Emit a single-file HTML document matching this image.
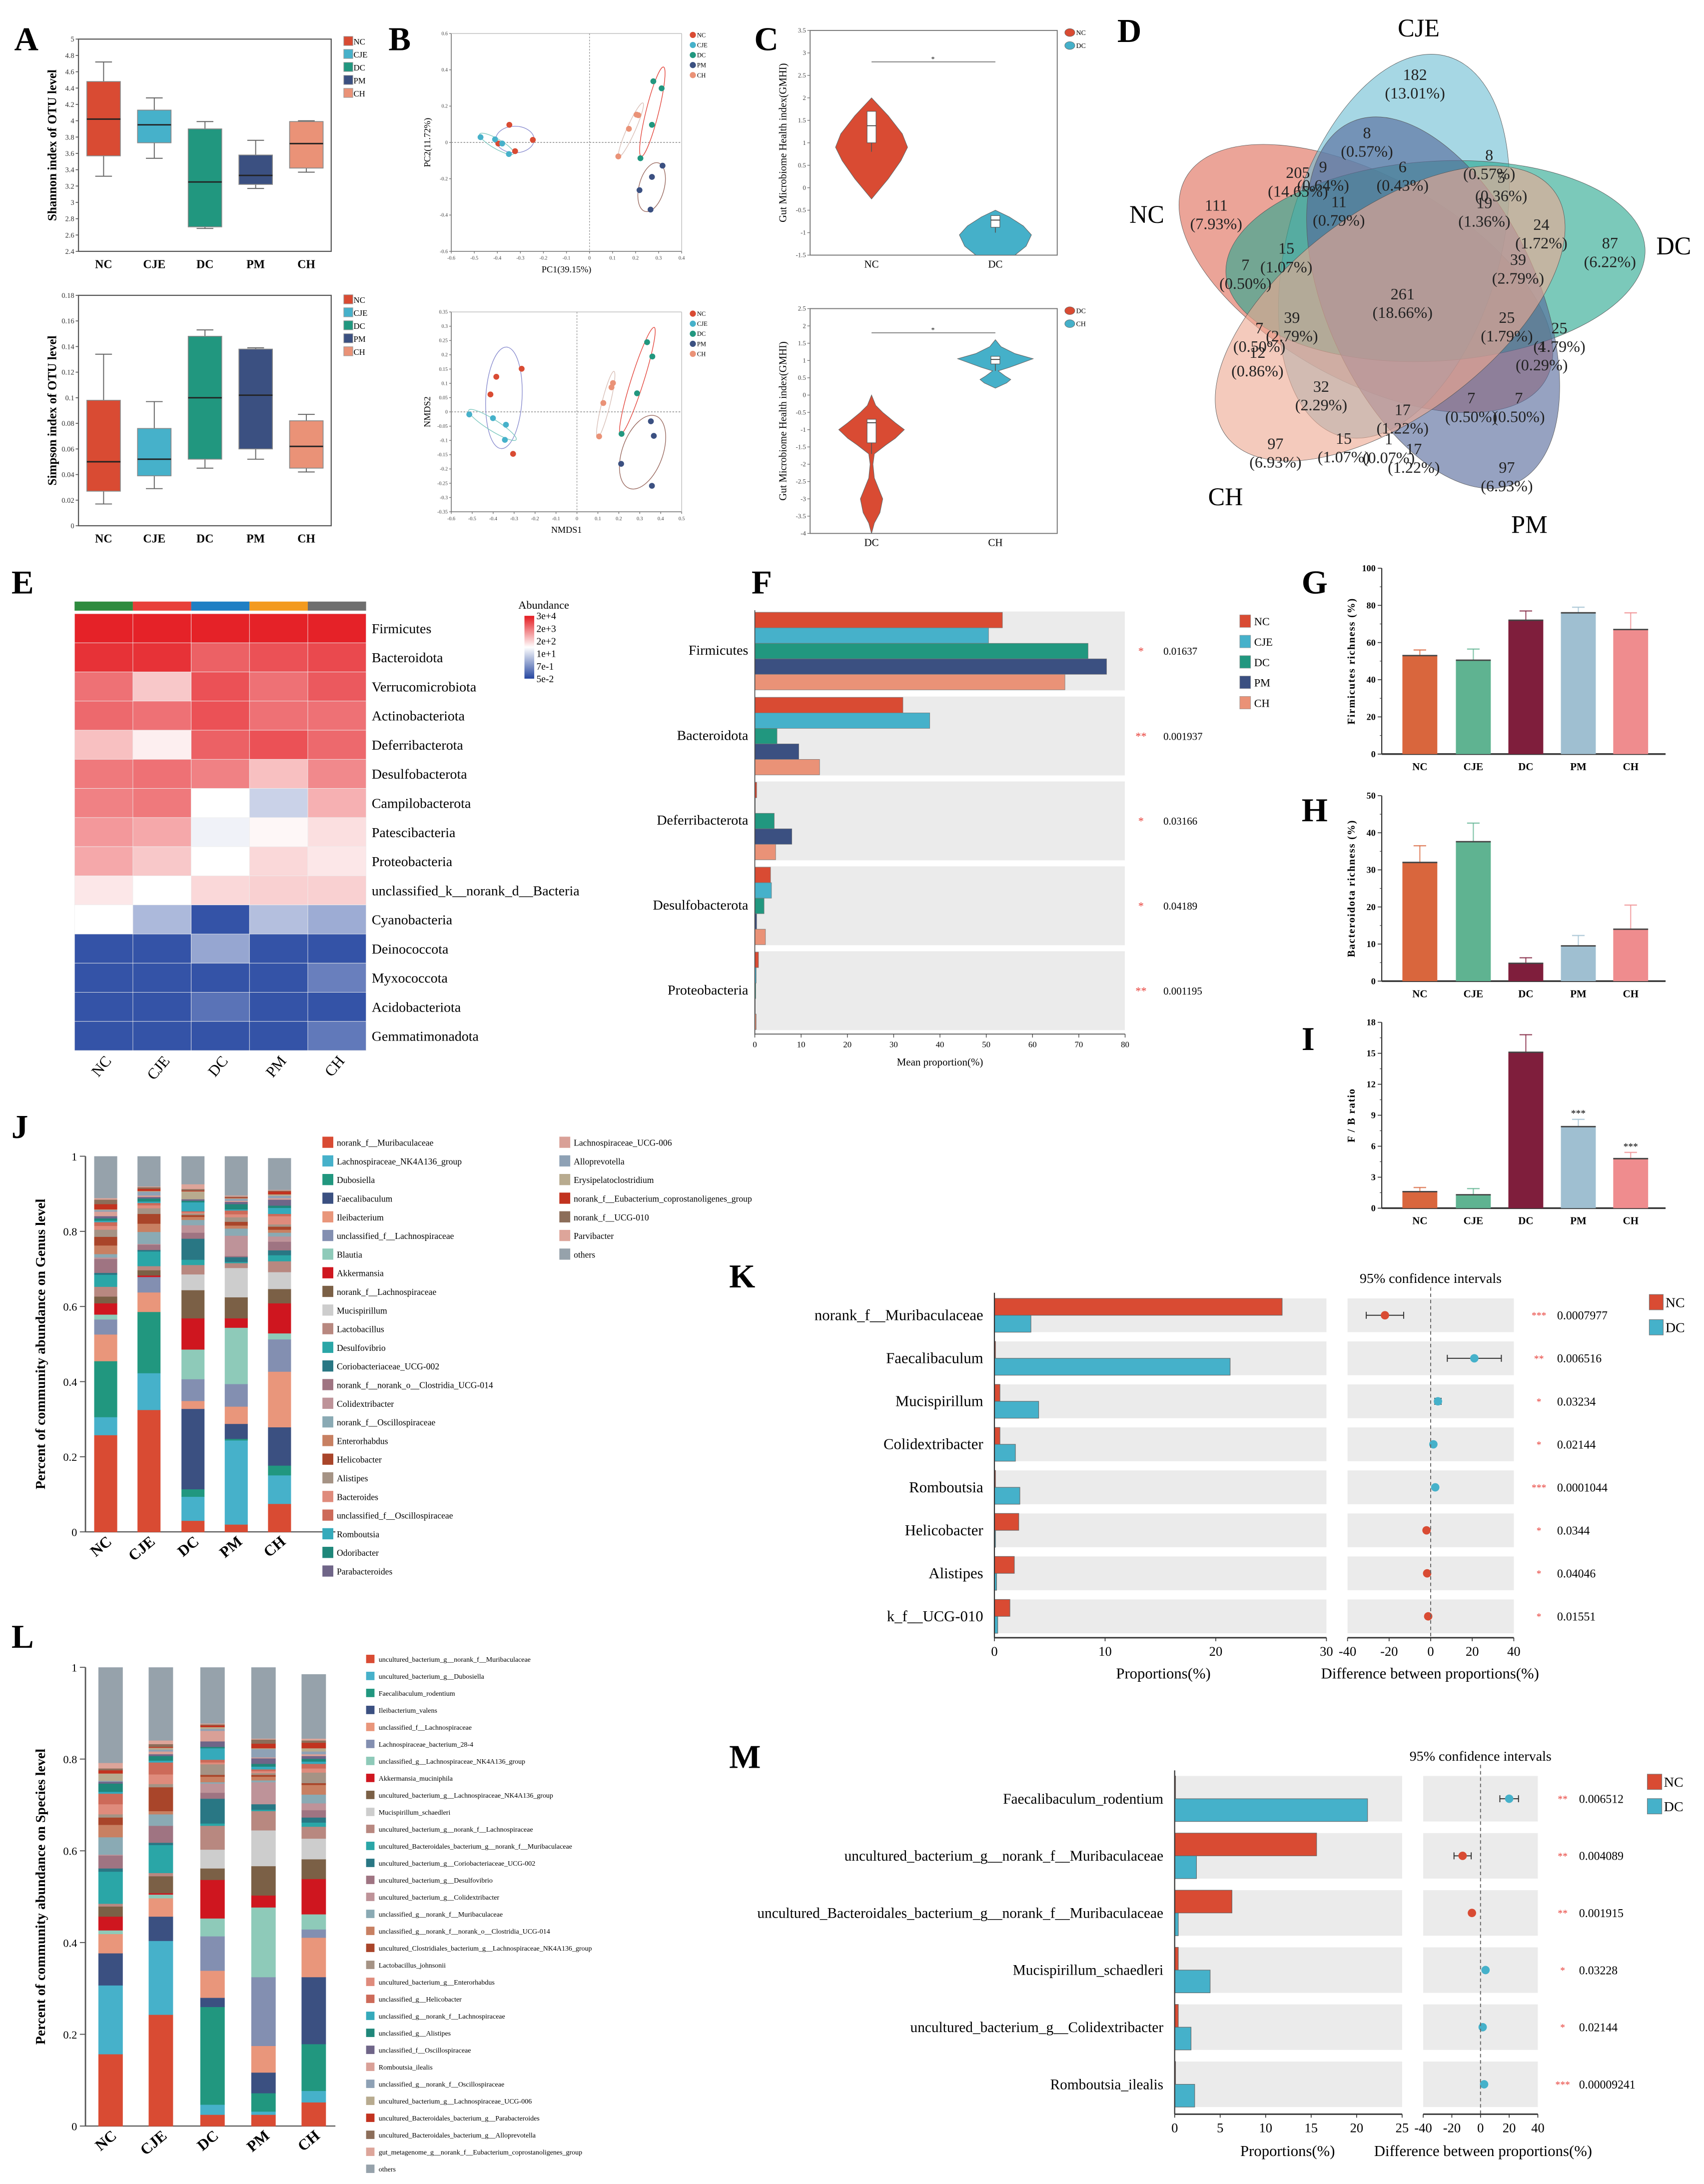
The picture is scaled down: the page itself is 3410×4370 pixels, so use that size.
<!DOCTYPE html>
<html><head><meta charset="utf-8"><title>Figure</title>
<style>
html,body{margin:0;padding:0;background:#fff;}
svg{display:block;font-family:"Liberation Serif","DejaVu Serif",serif;}
</style></head>
<body>
<svg id="fig" width="3410" height="4370" viewBox="0 0 1220 1564" xmlns="http://www.w3.org/2000/svg"></svg>
<script>
// ---------------- DATA ----------------
const groups = ['NC','CJE','DC','PM','CH'];
const groupColors = ['#d94b33','#46b1ca','#21977f','#3b5081','#ea9277'];
// A: boxplots [min,q1,median,q3,max]
const shannonBoxes = [[3.32,3.57,4.02,4.48,4.72],[3.54,3.73,3.95,4.13,4.28],[2.68,2.70,3.25,3.90,3.99],[3.17,3.22,3.33,3.58,3.76],[3.37,3.42,3.72,3.99,4.00]];
const shannonTicks = [2.4,2.6,2.8,3,3.2,3.4,3.6,3.8,4,4.2,4.4,4.6,4.8,5];
const simpsonBoxes = [[0.017,0.027,0.050,0.098,0.134],[0.029,0.039,0.052,0.076,0.097],[0.045,0.052,0.100,0.148,0.153],[0.052,0.060,0.102,0.138,0.139],[0.042,0.045,0.062,0.082,0.087]];
const simpsonTicks = [0,0.02,0.04,0.06,0.08,0.1,0.12,0.14,0.16,0.18];
// B: PCA / NMDS points per group [x,y]
const pcaPoints = [
 [[-0.348,0.097],[-0.396,-0.006],[-0.323,-0.048],[-0.246,0.014]],
 [[-0.473,0.029],[-0.41,0.017],[-0.379,-0.006],[-0.35,-0.064]],
 [[0.277,0.337],[0.313,0.298],[0.271,0.097],[0.221,-0.087]],
 [[0.317,-0.128],[0.271,-0.19],[0.217,-0.263],[0.265,-0.37]],
 [[0.204,0.153],[0.212,0.15],[0.171,0.075],[0.125,-0.077]]];
const pcaXTicks = [-0.6,-0.5,-0.4,-0.3,-0.2,-0.1,0,0.1,0.2,0.3,0.4];
const pcaYTicks = [-0.6,-0.4,-0.2,0,0.2,0.4,0.6];
const nmdsPoints = [
 [[-0.385,0.123],[-0.264,0.151],[-0.413,0.061],[-0.305,-0.147]],
 [[-0.514,-0.009],[-0.401,-0.022],[-0.339,-0.045],[-0.344,-0.098]],
 [[0.335,0.244],[0.36,0.194],[0.287,0.065],[0.213,-0.077]],
 [[0.353,-0.033],[0.367,-0.084],[0.211,-0.182],[0.358,-0.259]],
 [[0.172,0.101],[0.165,0.086],[0.126,0.031],[0.106,-0.086]]];
const nmdsXTicks = [-0.6,-0.5,-0.4,-0.3,-0.2,-0.1,0,0.1,0.2,0.3,0.4,0.5];
const nmdsYTicks = [-0.35,-0.3,-0.25,-0.2,-0.15,-0.1,-0.05,0,0.05,0.1,0.15,0.2,0.25,0.3,0.35];
// C: violin profiles [value, half-width px]
const violinTopNC = [[-0.25,0],[0.2,12],[0.6,21],[0.9,25.8],[1.2,22],[1.6,12],[2.0,0]];
const violinTopDC = [[-1.5,14],[-1.3,22],[-1.05,25.8],[-0.85,20],[-0.65,10],[-0.5,0]];
const boxTopNC = [0.8,1.0,1.38,1.7]; const boxTopDC = [-1.0,-0.88,-0.72,-0.62];
const violinBotDC = [[-4,0],[-3.7,2],[-3.4,6],[-3.0,8],[-2.7,5],[-2.4,2],[-2.0,1],[-1.7,2],[-1.45,10],[-1.25,17],[-1.0,23.5],[-0.8,17],[-0.5,8],[-0.3,3],[0,0]];
const violinBotCH = [[0.2,0],[0.35,8],[0.45,11],[0.55,7],[0.7,2],[0.8,10],[1.05,27],[1.2,14],[1.4,4],[1.6,0]];
const boxBotDC = [-1.7,-1.38,-0.8,-0.7]; const boxBotCH = [0.7,0.9,1.03,1.12];
const gmhiTopTicks = [-1.5,-1,-0.5,0,0.5,1,1.5,2,2.5,3,3.5];
const gmhiBotTicks = [-4,-3.5,-3,-2.5,-2,-1.5,-1,-0.5,0,0.5,1,1.5,2,2.5];
// E: heatmap (log10 abundance)
const phyla = ['Firmicutes','Bacteroidota','Verrucomicrobiota','Actinobacteriota','Deferribacterota','Desulfobacterota','Campilobacterota','Patescibacteria','Proteobacteria','unclassified_k__norank_d__Bacteria','Cyanobacteria','Deinococcota','Myxococcota','Acidobacteriota','Gemmatimonadota'];
const heatValues = [
 [4.4,4.4,4.4,4.4,4.4],[4.2,4.2,3.6,3.8,3.9],[3.4,2.3,3.8,3.4,3.7],[3.5,3.4,3.8,3.4,3.4],
 [2.4,1.8,3.6,3.8,3.5],[3.3,3.4,3.2,2.4,3.1],[3.2,3.3,1.6,0.9,2.6],[2.9,2.7,1.4,1.7,2.0],
 [2.7,2.3,1.6,2.1,1.9],[1.9,1.6,2.1,2.2,2.2],[1.6,0.5,-1.1,0.6,0.3],[-1.1,-1.1,0.2,-1.1,-1.1],
 [-1.1,-1.1,-1.1,-1.1,-0.4],[-1.1,-1.1,-0.6,-1.1,-1.1],[-1.1,-1.1,-1.1,-1.1,-0.5]];
const heatLegendLabels = ['3e+4','2e+3','2e+2','1e+1','7e-1','5e-2'];
// F
const fPhyla = ['Firmicutes','Bacteroidota','Deferribacterota','Desulfobacterota','Proteobacteria'];
const fValues = [[53.5,50.5,72,76,67],[32,37.8,4.8,9.5,14],[0.4,0.1,4.2,8,4.5],[3.4,3.6,2,0.4,2.3],[0.8,0.3,0.2,0.1,0.3]];
const fStars = ['*','**','*','*','**'];
const fPvals = ['0.01637','0.001937','0.03166','0.04189','0.001195'];
const fTicks = [0,10,20,30,40,50,60,70,80];
// G H I
const barColors = ['#d9663d','#5fb391','#7f1e3c','#9fbfd1','#ef8c8e'];
const firmMeans = [53,50.5,72,76,67]; const firmErr = [3,6,5,3,9];
const bactMeans = [32,37.6,4.8,9.5,14]; const bactErr = [4.5,5,1.5,2.8,6.5];
const fbMeans = [1.6,1.3,15.1,7.9,4.8]; const fbErr = [0.4,0.6,1.7,0.7,0.6];
const fbStars = ['','','','***','***'];
// J genus stacked
const genusNames = ['norank_f__Muribaculaceae','Lachnospiraceae_NK4A136_group','Dubosiella','Faecalibaculum','Ileibacterium','unclassified_f__Lachnospiraceae','Blautia','Akkermansia','norank_f__Lachnospiraceae','Mucispirillum','Lactobacillus','Desulfovibrio','Coriobacteriaceae_UCG-002','norank_f__norank_o__Clostridia_UCG-014','Colidextribacter','norank_f__Oscillospiraceae','Enterorhabdus','Helicobacter','Alistipes','Bacteroides','unclassified_f__Oscillospiraceae','Romboutsia','Odoribacter','Parabacteroides','Lachnospiraceae_UCG-006','Alloprevotella','Erysipelatoclostridium','norank_f__Eubacterium_coprostanoligenes_group','norank_f__UCG-010','Parvibacter','others'];
const taxColors = ['#d94b33','#46b1ca','#21977f','#3b5081','#e9967b','#838fb1','#8ecab9','#cf161f','#7b6046','#cdcdcd','#b88880','#2aa6a7','#297784','#9f7482','#be9399','#8aaab4','#c88062','#a9452a','#a59385','#df8b7c','#cd6a59','#35aabb','#1f877a','#6f6588','#d9a097','#8ea1b5','#b8ab8f','#c2331f','#8c6e5a','#dda59a','#96a2ab'];
const genusNC = [0.258,0.048,0.149,0,0.071,0.04,0.013,0.03,0.018,0,0.026,0.032,0.005,0.037,0.004,0.009,0.023,0.023,0.019,0.01,0.01,0.004,0.006,0.006,0.012,0.004,0.002,0.014,0.012,0.004,0.12];
const genusCJE = [0.325,0.098,0.163,0,0.052,0.041,0,0.004,0.014,0,0.011,0.039,0.004,0.014,0.002,0.032,0.022,0.026,0.015,0.008,0.006,0.004,0.008,0.004,0.004,0.01,0.002,0.006,0.004,0.002,0.094];
const genusDC = [0.03,0.064,0.02,0.214,0.021,0.058,0.079,0.083,0.075,0.042,0.025,0.014,0.056,0.016,0.02,0.014,0.008,0.005,0.004,0.003,0.003,0.024,0.004,0.004,0,0,0.021,0.002,0.004,0.013,0.08];
const genusPM = [0.02,0.224,0.004,0.04,0.046,0.06,0.15,0.025,0.056,0.078,0.013,0.003,0.013,0.003,0.054,0.019,0.008,0.01,0.012,0.008,0.01,0.003,0.014,0.006,0.003,0.005,0.002,0.002,0.002,0.003,0.12];
const genusCH = [0.075,0.076,0.026,0.102,0.148,0.086,0.016,0.08,0.038,0.045,0.029,0.016,0.013,0.023,0.014,0.01,0.008,0.008,0.006,0.022,0.006,0.016,0.006,0.016,0.004,0.006,0.004,0.008,0.002,0.002,0.084];
// L species stacked
const speciesNames = ['uncultured_bacterium_g__norank_f__Muribaculaceae','uncultured_bacterium_g__Dubosiella','Faecalibaculum_rodentium','Ileibacterium_valens','unclassified_f__Lachnospiraceae','Lachnospiraceae_bacterium_28-4','unclassified_g__Lachnospiraceae_NK4A136_group','Akkermansia_muciniphila','uncultured_bacterium_g__Lachnospiraceae_NK4A136_group','Mucispirillum_schaedleri','uncultured_bacterium_g__norank_f__Lachnospiraceae','uncultured_Bacteroidales_bacterium_g__norank_f__Muribaculaceae','uncultured_bacterium_g__Coriobacteriaceae_UCG-002','uncultured_bacterium_g__Desulfovibrio','uncultured_bacterium_g__Colidextribacter','unclassified_g__norank_f__Muribaculaceae','unclassified_g__norank_f__norank_o__Clostridia_UCG-014','uncultured_Clostridiales_bacterium_g__Lachnospiraceae_NK4A136_group','Lactobacillus_johnsonii','uncultured_bacterium_g__Enterorhabdus','unclassified_g__Helicobacter','unclassified_g__norank_f__Lachnospiraceae','unclassified_g__Alistipes','unclassified_f__Oscillospiraceae','Romboutsia_ilealis','unclassified_g__norank_f__Oscillospiraceae','uncultured_bacterium_g__Lachnospiraceae_UCG-006','uncultured_Bacteroidales_bacterium_g__Parabacteroides','uncultured_Bacteroidales_bacterium_g__Alloprevotella','gut_metagenome_g__norank_f__Eubacterium_coprostanoligenes_group','others'];
const speciesColors = ['#d94b33','#46b1ca','#21977f','#3b5081','#e9967b','#838fb1','#8ecab9','#cf161f','#7b6046','#cdcdcd','#b88880','#2aa6a7','#297784','#9f7482','#be9399','#8aaab4','#c88062','#a9452a','#a59385','#df8b7c','#cd6a59','#35aabb','#1f877a','#6f6588','#d9a097','#8ea1b5','#b8ab8f','#c2331f','#8c6e5a','#dda59a','#96a2ab'];
const speciesNC = [0.157,0.15,0,0.07,0.042,0,0.008,0.03,0.022,0,0.006,0.07,0.007,0.028,0.002,0.038,0.027,0.016,0.007,0.022,0.023,0.004,0.018,0.004,0,0.002,0.016,0.007,0.004,0.012,0.21];
const speciesCJE = [0.243,0.161,0,0.053,0.04,0,0.008,0.003,0.037,0,0.007,0.061,0.005,0.037,0,0.025,0.007,0.052,0.007,0.021,0.026,0.004,0.01,0.004,0.006,0.004,0.004,0.002,0.006,0.008,0.161];
const speciesDC = [0.025,0.022,0.213,0.02,0.059,0.075,0.039,0.084,0.025,0.041,0.052,0.005,0.054,0.013,0.02,0.003,0.012,0.004,0.023,0.004,0.006,0.025,0.003,0.012,0.023,0.004,0.004,0.004,0.002,0.002,0.143];
const speciesPM = [0.025,0.007,0.04,0.045,0.058,0.15,0.152,0.026,0.064,0.078,0.042,0.003,0.012,0,0.048,0.004,0.008,0.004,0.004,0.004,0.004,0.006,0.006,0.012,0.002,0.018,0.002,0.01,0.009,0.002,0.171];
const speciesCH = [0.052,0.025,0.102,0.146,0.086,0.018,0.033,0.077,0.043,0.045,0.026,0.009,0.011,0.016,0.015,0.019,0.021,0.004,0.023,0.009,0.01,0.005,0.006,0.006,0.004,0.006,0.007,0.012,0.005,0.004,0.14];
const stackTicks = [0,0.2,0.4,0.6,0.8,1];
// K
const kTaxa = ['norank_f__Muribaculaceae','Faecalibaculum','Mucispirillum','Colidextribacter','Romboutsia','Helicobacter','Alistipes','k_f__UCG-010'];
const kNC = [26,0.1,0.5,0.5,0.1,2.2,1.8,1.4];
const kDC = [3.3,21.3,4,1.9,2.3,0.1,0.2,0.3];
const kDiff = [-22,21,3.5,1.3,2.2,-2,-1.7,-1.2];
const kErr = [9,13,1.5,0.8,1,0.8,0.7,0.7];
const kStars = ['***','**','*','*','***','*','*','*'];
const kPvals = ['0.0007977','0.006516','0.03234','0.02144','0.0001044','0.0344','0.04046','0.01551'];
const kTicks = [0,10,20,30]; const diffTicks = [-40,-20,0,20,40];
// M
const mTaxa = ['Faecalibaculum_rodentium','uncultured_bacterium_g__norank_f__Muribaculaceae','uncultured_Bacteroidales_bacterium_g__norank_f__Muribaculaceae','Mucispirillum_schaedleri','uncultured_bacterium_g__Colidextribacter','Romboutsia_ilealis'];
const mNC = [0.1,15.6,6.3,0.4,0.4,0.1];
const mDC = [21.2,2.4,0.4,3.9,1.8,2.2];
const mDiff = [20,-12.5,-6,3.5,1.5,2.5];
const mErr = [6.5,6,1,1,0.6,0.6];
const mStars = ['**','**','**','*','*','***'];
const mPvals = ['0.006512','0.004089','0.001915','0.03228','0.02144','0.00009241'];
const mTicks = [0,5,10,15,20,25];
// D venn labels [count, percent, px, py] (perceived coords of zoomed panel)
const vennCounts = [
 ['182','(13.01%)',790,212],['8','(0.57%)',662,378],['8','(0.57%)',988,442],['205','(14.65%)',478,492],
 ['9','(0.64%)',545,475],['6','(0.43%)',757,475],['5','(0.36%)',1020,505],['111','(7.93%)',260,585],
 ['11','(0.79%)',587,575],['19','(1.36%)',975,578],['24','(1.72%)',1127,640],['87','(6.22%)',1310,693],
 ['15','(1.07%)',447,708],['7','(0.50%)',338,755],['39','(2.79%)',1065,740],['261','(18.66%)',757,838],
 ['39','(2.79%)',462,905],['7','(0.50%)',375,935],['25','(1.79%)',1035,905],['25','(1.79%)',1175,935],
 ['12','(0.86%)',370,1005],['4','(0.29%)',1128,988],['32','(2.29%)',540,1102],['17','(1.22%)',757,1168],
 ['7','(0.50%)',940,1135],['7','(0.50%)',1067,1135],['97','(6.93%)',418,1265],['15','(1.07%)',600,1250],
 ['1','(0.07%)',720,1252],['17','(1.22%)',787,1280],['97','(6.93%)',1035,1333]];

// ---------------- HELPERS ----------------
const NS='http://www.w3.org/2000/svg';
const svg=document.getElementById('fig');
function mk(tag,a,name,parent){
  const e=document.createElementNS(NS,tag);
  for(const k in a) e.setAttribute(k,a[k]);
  
  
  (parent||svg).appendChild(e); return e;
}
function tx(x,y,s,size,name,o){
  const e=mk('text',Object.assign({x:x,y:y,'font-size':size},o||{}),name);
  e.textContent=s; return e;
}
function lin(d0,d1,r0,r1){return v=>r0+(v-d0)/(d1-d0)*(r1-r0);}
function line(x1,y1,x2,y2,st,w,name,extra){return mk('line',Object.assign({x1,y1,x2,y2,stroke:st,'stroke-width':w},extra||{}),name);}
function panelLetter(x,y,s){tx(x,y,s,24,'panel-label-'+s.toLowerCase(),{'font-weight':'bold'});}

// ---------------- PANEL A ----------------
panelLetter(10,36,'A');
function boxPanel(boxes,ticks,y0v,y1v,top,bot,ylabel,legY,nm){
  const L=56,R=237;
  const y=lin(y0v,y1v,bot,top);
  mk('rect',{x:L,y:top,width:R-L,height:bot-top,fill:'none',stroke:'#555','stroke-width':0.8},nm+'-frame');
  ticks.forEach(t=>{line(L-2,y(t),L,y(t),'#555',0.6,nm+'-y-tick');
    tx(L-3,y(t)+1.8,String(t),5.2,nm+'-y-tick-label',{'text-anchor':'end',fill:'#333'});});
  tx(0,0,ylabel,9,nm+'-y-axis-title',{'text-anchor':'middle','font-weight':'bold',transform:`translate(40,${(top+bot)/2}) rotate(-90)`});
  boxes.forEach((b,i)=>{
    const cx=74+i*36.3, w=24;
    line(cx,y(b[0]),cx,y(b[1]),'#666',0.7,nm+'-whisker');
    line(cx,y(b[3]),cx,y(b[4]),'#666',0.7,nm+'-whisker');
    line(cx-6,y(b[0]),cx+6,y(b[0]),'#666',0.7,nm+'-whisker-cap');
    line(cx-6,y(b[4]),cx+6,y(b[4]),'#666',0.7,nm+'-whisker-cap');
    mk('rect',{x:cx-w/2,y:y(b[3]),width:w,height:y(b[1])-y(b[3]),fill:groupColors[i],stroke:'#888','stroke-width':0.6},nm+'-box-'+groups[i].toLowerCase());
    line(cx-w/2,y(b[2]),cx+w/2,y(b[2]),'#222',1,nm+'-median');
    tx(cx,bot+12,groups[i],8.5,nm+'-x-label',{'text-anchor':'middle','font-weight':'bold'});
  });
  groups.forEach((g,i)=>{
    mk('rect',{x:246,y:legY+i*9.3-3.5,width:6.5,height:6.5,fill:groupColors[i],stroke:'#999','stroke-width':0.4},nm+'-legend-swatch');
    tx(253,legY+i*9.3+2.3,g,6,nm+'-legend-entry');
  });
}
boxPanel(shannonBoxes,shannonTicks,2.4,5,28,180,'Shannon index of OTU level',29.6,'shannon');
boxPanel(simpsonBoxes,simpsonTicks,0,0.18,211.5,376.5,'Simpson index of OTU level',214.6,'simpson');

// ---------------- PANEL B ----------------
panelLetter(278,36,'B');
function scatterPanel(points,xt,yt,xd,yd,L,R,T,B,xlab,ylab,nm,ellipses,legY){
  const x=lin(xd[0],xd[1],L,R), y=lin(yd[0],yd[1],B,T);
  line(L,T,L,B,'#777',0.6,nm+'-y-axis'); line(L,B,R,B,'#777',0.6,nm+'-x-axis');
  line(L,T,R,T,'#bbb',0.5,nm+'-frame-top'); line(R,T,R,B,'#bbb',0.5,nm+'-frame-right');
  xt.forEach(t=>{line(x(t),B,x(t),B+1.5,'#777',0.5,nm+'-x-tick');
    tx(x(t),B+6,String(t),3.6,nm+'-x-tick-label',{'text-anchor':'middle',fill:'#444'});});
  yt.forEach(t=>{line(L-1.5,y(t),L,y(t),'#777',0.5,nm+'-y-tick');
    tx(L-2.5,y(t)+1.2,String(t),3.6,nm+'-y-tick-label',{'text-anchor':'end',fill:'#444'});});
  line(x(0),T,x(0),B,'#999',0.5,nm+'-zero-vline',{'stroke-dasharray':'1.2,1'});
  line(L,y(0),R,y(0),'#999',0.6,nm+'-zero-hline',{'stroke-dasharray':'1.2,1'});
  tx((L+R)/2,B+15,xlab,6.5,nm+'-x-axis-title',{'text-anchor':'middle'});
  tx(0,0,ylab,6.5,nm+'-y-axis-title',{'text-anchor':'middle',transform:`translate(${L-15},${(T+B)/2}) rotate(-90)`});
  ellipses.forEach(e=>mk('ellipse',{cx:e[0],cy:e[1],rx:e[2],ry:e[3],transform:`rotate(${e[4]} ${e[0]} ${e[1]})`,fill:'none',stroke:e[5],'stroke-width':0.5},nm+'-confidence-ellipse'));
  points.forEach((pts,g)=>pts.forEach(p=>mk('circle',{cx:x(p[0]),cy:y(p[1]),r:2.1,fill:groupColors[g]},nm+'-point-'+groups[g].toLowerCase())));
  groups.forEach((g,i)=>{mk('circle',{cx:496,cy:legY+i*7.2,r:2.2,fill:groupColors[i]},nm+'-legend-marker');
    tx(499,legY+i*7.2+1.6,g,4.5,nm+'-legend-entry');});
}
scatterPanel(pcaPoints,pcaXTicks,pcaYTicks,[-0.6,0.4],[-0.6,0.6],323,488,24,180,'PC1(39.15%)','PC2(11.72%)','pca',
 [[368.6,99.9,13.7,9.5,0,'#8c8fd0'],[355.5,103,14,3.5,30,'#7fc9c0'],[467,80,33,4.5,-76,'#e4473e'],[451.7,92.9,21,3,-66,'#d9c0b8'],[466.5,134,9,18,15,'#9a6a60']],25);
scatterPanel(nmdsPoints,nmdsXTicks,nmdsYTicks,[-0.6,0.5],[-0.35,0.35],323,488,223.4,366.5,'NMDS1','NMDS2','nmds',
 [[360.7,284.9,13,36.4,3,'#8c8fd0'],[352.5,304.3,20,4,32,'#7fc9c0'],[456.3,272.6,40,4.5,-72.5,'#e4473e'],[433.6,289.7,24.5,3,-76,'#d9c0b8'],[460,323.8,14.5,27.6,20,'#9a6a60']],224.6);

// ---------------- PANEL C ----------------
panelLetter(540,36,'C');
function violinPanel(T,B,ticks,vd,vA,vB,bA,bB,cA,cB,lA,lB,sigV,nm){
  const L=580,R=757;
  const y=lin(vd[0],vd[1],B,T);
  const cp=mk('clipPath',{id:nm+'-clip'},nm+'-clip');
  mk('rect',{x:L,y:T,width:R-L,height:B-T},nm+'-clip-rect',cp);
  mk('rect',{x:L,y:T,width:R-L,height:B-T,fill:'none',stroke:'#777','stroke-width':0.7},nm+'-frame');
  ticks.forEach(t=>{line(L-2,y(t),L,y(t),'#777',0.5,nm+'-y-tick');
    tx(L-3,y(t)+1.5,String(t),4.6,nm+'-y-tick-label',{'text-anchor':'end',fill:'#444'});});
  tx(0,0,'Gut Microbiome Health index(GMHI)',7.4,nm+'-y-axis-title',{'text-anchor':'middle',transform:`translate(${L-17},${(T+B)/2}) rotate(-90)`});
  const g=mk('g',{'clip-path':`url(#${nm}-clip)`},nm+'-violins');
  [[vA,bA,624,cA],[vB,bB,712.7,cB]].forEach(([prof,box,cx,col],k)=>{
    let d='M'+cx+','+y(prof[0][0]);
    prof.forEach(p=>d+=' L'+(cx+p[1])+','+y(p[0]));
    for(let i=prof.length-1;i>=0;i--) d+=' L'+(cx-prof[i][1])+','+y(prof[i][0]);
    mk('path',{d:d+'Z',fill:col,stroke:'#666','stroke-width':0.4},nm+'-violin-'+k,g);
    line(cx,y(box[0]),cx,y(box[1]),'#555',0.6,nm+'-violin-whisker',g);
    mk('rect',{x:cx-3.2,y:y(box[3]),width:6.4,height:y(box[1])-y(box[3]),fill:'#fff',stroke:'#555','stroke-width':0.4},nm+'-violin-box',g);
    line(cx-3.2,y(box[2]),cx+3.2,y(box[2]),'#333',0.6,nm+'-violin-median',g);
  });
  tx(624,B+9,lA,7.5,nm+'-x-label',{'text-anchor':'middle'});
  tx(712.7,B+9,lB,7.5,nm+'-x-label',{'text-anchor':'middle'});
  const sy=y(sigV);
  line(624,sy,712.7,sy,'#555',0.5,nm+'-significance-bracket');
  tx(668,sy-0.5,'*',5,nm+'-significance-star',{'text-anchor':'middle'});
  [[lA,cA],[lB,cB]].forEach(([l,c],i)=>{mk('ellipse',{cx:766,cy:T+1.5+i*9.3,rx:3.6,ry:2.8,fill:c,stroke:'#666','stroke-width':0.3},nm+'-legend-marker');
    tx(770.5,T+3.2+i*9.3,l,5,nm+'-legend-entry');});
}
violinPanel(21.8,182.7,gmhiTopTicks,[-1.5,3.5],violinTopNC,violinTopDC,boxTopNC,boxTopDC,'#d94b33','#45b0c9','NC','DC',2.8,'gmhi-top');
violinPanel(221,382,gmhiBotTicks,[-4,2.5],violinBotDC,violinBotCH,boxBotDC,boxBotCH,'#d94b33','#45b0c9','DC','CH',1.8,'gmhi-bottom');

// ---------------- PANEL D (Venn) ----------------
panelLetter(800,30,'D');
const vg=mk('g',{transform:'translate(801,0) scale(0.2686,0.251)'},'venn-ellipses');
const vennSets=[['NC','#df6c58',-2],['CJE','#6fbfd3',-1],['DC','#2aa88f',0],['PM','#55699b',-4],['CH','#eea993',-3]];
vennSets.forEach(([n,c,k])=>{
  const ang=(-33+k*72)*Math.PI/180, cx=760+101*Math.cos(ang), cy=800+101*Math.sin(ang);
  mk('ellipse',{cx:cx,cy:cy,rx:560,ry:285,transform:`rotate(${-4+k*72} ${cx} ${cy})`,fill:c,'fill-opacity':0.62,stroke:'#555','stroke-width':0.8,'vector-effect':'non-scaling-stroke'},'venn-set-'+n.toLowerCase(),vg);
});
function vx(px){return 801+px*0.2686;} function vy(py){return py*0.251;}
vennCounts.forEach(v=>{
  tx(vx(v[2]),vy(v[3])+4,v[0],11.5,'venn-count',{'text-anchor':'middle',fill:'#222'});
  tx(vx(v[2]),vy(v[3]+53)+4,v[1],11.5,'venn-percent',{'text-anchor':'middle',fill:'#222'});
});
[['CJE',800,80],['NC',75,612],['DC',1480,702],['CH',285,1418],['PM',1095,1497]].forEach(l=>
  tx(vx(l[1]),vy(l[2])+6,l[0],18,'venn-set-label',{'text-anchor':'middle'}));

// ---------------- PANEL E (heatmap) ----------------
panelLetter(8,425,'E');
function heatColor(v){
  const b=[37,70,160], w=[255,255,255], r=[228,26,32];
  let c;
  if(v<1.6){const t=Math.max(0,(v+1.3)/2.9); c=b.map((x,i)=>Math.round(x+(w[i]-x)*t));}
  else{const t=Math.min(1,(v-1.6)/2.9); c=w.map((x,i)=>Math.round(x+(r[i]-x)*t));}
  return `rgb(${c[0]},${c[1]},${c[2]})`;
}
const hL=53.2,hW=(262-53.2)/5,hT=439.5,hH=(752.3-439.5)/15;
const groupBarColors=['#2e8b3e','#e8403a','#1f7fc4','#f39a1f','#6e6e6e'];
groups.forEach((g,j)=>mk('rect',{x:hL+j*hW,y:430.8,width:hW,height:6.5,fill:groupBarColors[j]},'heatmap-group-bar-'+g.toLowerCase()));
heatValues.forEach((row,i)=>{
  row.forEach((v,j)=>mk('rect',{x:hL+j*hW,y:hT+i*hH,width:hW,height:hH,fill:heatColor(v),stroke:'#eee','stroke-width':0.3},'heatmap-cell'));
  tx(266,hT+i*hH+hH/2+3.5,phyla[i],10,'heatmap-row-label');
});
groups.forEach((g,j)=>tx(0,0,g,11,'heatmap-col-label',{'text-anchor':'end',transform:`translate(${hL+j*hW+hW/2+6},${760}) rotate(-50)`}));
tx(371,436,'Abundance',8,'heatmap-legend-title');
const gd=mk('linearGradient',{id:'hgrad',x1:0,y1:0,x2:0,y2:1},'heatmap-gradient');
[['0','rgb(228,26,32)'],['0.5','#ffffff'],['1','rgb(37,70,160)']].forEach(s=>mk('stop',{offset:s[0],'stop-color':s[1]},'gradient-stop',gd));
mk('rect',{x:375.4,y:441,width:7,height:45,fill:'url(#hgrad)'},'heatmap-legend-bar');
heatLegendLabels.forEach((l,i)=>tx(384,441.5+i*9+2,l,7,'heatmap-legend-label'));

// ---------------- PANEL F ----------------
panelLetter(538,425,'F');
const fx=lin(0,80,540.4,805.6);
const fgTop=[437.9,498.8,559.6,620.4,681.2];
fPhyla.forEach((p,i)=>{
  mk('rect',{x:540.4,y:fgTop[i],width:265,height:56.5,fill:'#ebebeb'},'f-group-background');
  fValues[i].forEach((v,j)=>mk('rect',{x:540.4,y:fgTop[i]+0.6+j*11.1,width:fx(v)-540.4,height:11.1,fill:groupColors[j],stroke:'#777','stroke-width':0.3},'f-bar-'+groups[j].toLowerCase()));
  tx(535.7,fgTop[i]+31,p,10,'f-category-label',{'text-anchor':'end'});
  tx(817,fgTop[i]+31,fStars[i],8,'f-significance',{fill:'#e8403a','text-anchor':'middle'});
  tx(833,fgTop[i]+31,fPvals[i],7.5,'f-p-value');
});
line(540.4,437,540.4,741,'#444',0.6,'f-y-axis'); line(540.4,740.5,805.6,740.5,'#444',0.6,'f-x-axis');
fTicks.forEach(t=>{line(fx(t),740.5,fx(t),743,'#444',0.5,'f-x-tick');tx(fx(t),750,String(t),6,'f-x-tick-label',{'text-anchor':'middle'});});
tx(673,763,'Mean proportion(%)',7.5,'f-x-axis-title',{'text-anchor':'middle'});
groups.forEach((g,i)=>{mk('rect',{x:887.7,y:444.8+i*14.6-4.5,width:7.8,height:9,fill:groupColors[i],stroke:'#999','stroke-width':0.3},'f-legend-swatch');
  tx(898,444.8+i*14.6+3,g,8,'f-legend-entry');});

// ---------------- PANELS G H I ----------------
const ghiCenters=[1016.7,1055,1092.6,1130.2,1167.7];
function barPanel(means,errs,stars,maxV,step,y0,y1,letter,letterY,ylab,nm){
  panelLetter(932,letterY,letter);
  const y=lin(0,maxV,y0,y1);
  line(989.4,y1,989.4,y0,'#333',0.8,nm+'-y-axis'); line(989.4,y0,1192.7,y0,'#333',1.2,nm+'-x-axis');
  for(let t=0;t<=maxV+1e-9;t+=step){line(986.5,y(t),989.4,y(t),'#333',0.6,nm+'-y-tick');
    tx(985,y(t)+2.2,String(Math.round(t)),6.5,nm+'-y-tick-label',{'text-anchor':'end','font-weight':'bold'});
    if(t>0) line(988,y(t-step/2),989.4,y(t-step/2),'#333',0.4,nm+'-minor-tick');}
  tx(0,0,ylab,7.5,nm+'-y-axis-title',{'text-anchor':'middle','font-weight':'bold','letter-spacing':'0.6',transform:`translate(970,${(y0+y1)/2}) rotate(-90)`});
  means.forEach((m,i)=>{
    const cx=ghiCenters[i], top=y(m), et=y(m+errs[i]);
    line(cx,top,cx,et,barColors[i],0.8,nm+'-error-bar',{opacity:0.75});
    line(cx-4.5,et,cx+4.5,et,barColors[i],0.9,nm+'-error-cap',{opacity:0.75});
    mk('rect',{x:cx-12.5,y:top,width:25,height:y0-top,fill:barColors[i]},nm+'-bar-'+groups[i].toLowerCase());
    line(cx-12.5,top,cx+12.5,top,'#444',1,nm+'-bar-top');
    if(stars[i]) tx(cx,et-2,stars[i],7,nm+'-significance',{'text-anchor':'middle'});
    tx(cx,y0+11.5,groups[i],7.5,nm+'-x-label',{'text-anchor':'middle','font-weight':'bold'});
  });
}
barPanel(firmMeans,firmErr,['','','','',''],100,20,540,406.9,'G',425,'Firmicutes richness (%)','firmicutes');
barPanel(bactMeans,bactErr,['','','','',''],50,10,702.6,569.8,'H',588,'Bacteroidota richness (%)','bacteroidota');
barPanel(fbMeans,fbErr,fbStars,18,3,865.2,732.1,'I',752,'F / B ratio','fb-ratio');

// ---------------- STACKED J and L ----------------
function stacked(series,colors,centers,bw,T,B,ylab,nm){
  const y=lin(0,1,B,T);
  line(61,T,61,B,'#555',1,nm+'-y-axis');
  stackTicks.forEach(t=>{line(57,y(t),61,y(t),'#555',0.7,nm+'-y-tick');
    tx(55,y(t)+3,String(t),8,nm+'-y-tick-label',{'text-anchor':'end'});});
  line(61,B,240,B,'#555',0.8,nm+'-x-axis');
  tx(0,0,ylab,10,nm+'-y-axis-title',{'text-anchor':'middle','font-weight':'bold',transform:`translate(32,${(T+B)/2}) rotate(-90)`});
  series.forEach((vals,i)=>{
    let acc=0;
    vals.forEach((v,k)=>{ if(v<=0) return;
      const yt=y(Math.min(1,acc+v)), yb=y(acc);
      if(yb>yt) mk('rect',{x:centers[i]-bw/2,y:yt,width:bw,height:yb-yt+0.2,fill:colors[k]},nm+'-segment');
      acc+=v;});
    tx(0,0,groups[i],11,nm+'-x-label',{'text-anchor':'end','font-weight':'bold',transform:`translate(${centers[i]+5},${B+8}) rotate(-40)`});
  });
}
panelLetter(8,815,'J');
stacked([genusNC,genusCJE,genusDC,genusPM,genusCH],taxColors,[75.5,106.5,138,169,200],16.5,828,1097,'Percent of community abundance on Genus level','genus');
genusNames.forEach((n,i)=>{
  const col=i<24?0:1, row=i<24?i:i-24;
  const x=col?400.4:230.7, yy=818+row*13.35;
  mk('rect',{x:x,y:yy-4,width:7.8,height:8,fill:taxColors[i]},'genus-legend-swatch');
  tx(x+10.3,yy+2.5,n,6.3,'genus-legend-entry');
});
panelLetter(8,1180,'L');
stacked([speciesNC,speciesCJE,speciesDC,speciesPM,speciesCH],speciesColors,[79,115,152,188.5,224.5],17.5,1194,1522.5,'Percent of community abundance on Species level','species');
speciesNames.forEach((n,i)=>{
  const yy=1188+i*12.17;
  mk('rect',{x:262,y:yy-3,width:6,height:6,fill:speciesColors[i]},'species-legend-swatch');
  tx(271,yy+2,n,5,'species-legend-entry');
});

// ---------------- K and M ----------------
function diffPanel(o){
  const {taxa,nc,dc,diff,err,stars,pvals,L,R,max,ticks,DL,DR,rowTop,rowStep,rowH,axisY,labX,starX,pX,fs,nm}=o;
  const x=lin(0,max,L,R), d=lin(-40,40,DL,DR);
  taxa.forEach((t,i)=>{
    const top=rowTop+i*rowStep;
    mk('rect',{x:L,y:top,width:R-L,height:rowH,fill:'#ebebeb'},nm+'-row-background');
    mk('rect',{x:DL,y:top,width:DR-DL,height:rowH,fill:'#ebebeb'},nm+'-diff-background');
    mk('rect',{x:L,y:top,width:x(nc[i])-L,height:rowH/2,fill:'#d94b33',stroke:'#666','stroke-width':0.4},nm+'-bar-nc');
    mk('rect',{x:L,y:top+rowH/2,width:x(dc[i])-L,height:rowH/2,fill:'#45b1ca',stroke:'#666','stroke-width':0.4},nm+'-bar-dc');
    const cy=top+rowH/2;
    if(err[i]>1.2){line(d(diff[i]-err[i]),cy,d(diff[i]+err[i]),cy,'#333',0.7,nm+'-ci-line');
      line(d(diff[i]-err[i]),cy-2.5,d(diff[i]-err[i]),cy+2.5,'#333',0.7,nm+'-ci-cap');
      line(d(diff[i]+err[i]),cy-2.5,d(diff[i]+err[i]),cy+2.5,'#333',0.7,nm+'-ci-cap');}
    mk('circle',{cx:d(diff[i]),cy:cy,r:3,fill:diff[i]<0?'#d94b33':'#45b1ca'},nm+'-diff-point');
    tx(labX,cy+3.5,t,fs,nm+'-taxon-label',{'text-anchor':'end'});
    tx(starX,cy+2.5,stars[i],7,nm+'-significance',{fill:'#e8403a','text-anchor':'middle'});
    tx(pX,cy+3,pvals[i],8.5,nm+'-p-value');
  });
  line(d(0),rowTop-8,d(0),axisY,'#666',0.7,nm+'-zero-line',{'stroke-dasharray':'2.5,2'});
  line(L,rowTop-4,L,axisY,'#333',0.8,nm+'-y-axis');
  line(L,axisY,R,axisY,'#333',1,nm+'-x-axis'); line(DL,axisY,DR,axisY,'#333',1,nm+'-diff-x-axis');
  ticks.forEach(t=>{line(x(t),axisY,x(t),axisY+2.5,'#333',0.6,nm+'-x-tick');tx(x(t),axisY+13,String(t),9.5,nm+'-x-tick-label',{'text-anchor':'middle'});});
  diffTicks.forEach(t=>{line(d(t),axisY,d(t),axisY+2.5,'#333',0.6,nm+'-diff-tick');tx(d(t),axisY+13,String(t),9.5,nm+'-diff-tick-label',{'text-anchor':'middle'});});
  tx((DL+DR)/2,rowTop-11,'95% confidence intervals',10,nm+'-ci-title',{'text-anchor':'middle'});
}
panelLetter(522,922,'K');
diffPanel({taxa:kTaxa,nc:kNC,dc:kDC,diff:kDiff,err:kErr,stars:kStars,pvals:kPvals,L:712,R:949.8,max:30,ticks:kTicks,DL:964.9,DR:1084,rowTop:929.8,rowStep:30.8,rowH:24.2,axisY:1172.8,labX:704,starX:1102,pX:1115,fs:11,nm:'k'});
tx(833,1202,'Proportions(%)',11,'k-x-axis-title',{'text-anchor':'middle'});
tx(1024,1202,'Difference between proportions(%)',11,'k-diff-axis-title',{'text-anchor':'middle'});
mk('rect',{x:1181,y:927,width:10,height:11,fill:'#d94b33',stroke:'#777','stroke-width':0.4},'k-legend-nc-swatch');
tx(1192.6,936,'NC',10,'k-legend-nc');
mk('rect',{x:1181,y:945,width:10,height:11,fill:'#45b1ca',stroke:'#777','stroke-width':0.4},'k-legend-dc-swatch');
tx(1192.6,954,'DC',10,'k-legend-dc');

panelLetter(522,1266,'M');
diffPanel({taxa:mTaxa,nc:mNC,dc:mDC,diff:mDiff,err:mErr,stars:mStars,pvals:mPvals,L:841.1,R:1004,max:25,ticks:mTicks,DL:1019.1,DR:1101.2,rowTop:1271.8,rowStep:40.9,rowH:32.6,axisY:1514,labX:833,starX:1119,pX:1130.7,fs:10.5,nm:'m'});
tx(922,1544,'Proportions(%)',11,'m-x-axis-title',{'text-anchor':'middle'});
tx(1062,1544,'Difference between proportions(%)',11,'m-diff-axis-title',{'text-anchor':'middle'});
mk('rect',{x:1179.6,y:1270.5,width:10.4,height:11,fill:'#d94b33',stroke:'#777','stroke-width':0.4},'m-legend-nc-swatch');
tx(1191.5,1279.5,'NC',10,'m-legend-nc');
mk('rect',{x:1179.6,y:1288,width:10.4,height:11,fill:'#45b1ca',stroke:'#777','stroke-width':0.4},'m-legend-dc-swatch');
tx(1191.5,1297,'DC',10,'m-legend-dc');
</script>
</body></html>
